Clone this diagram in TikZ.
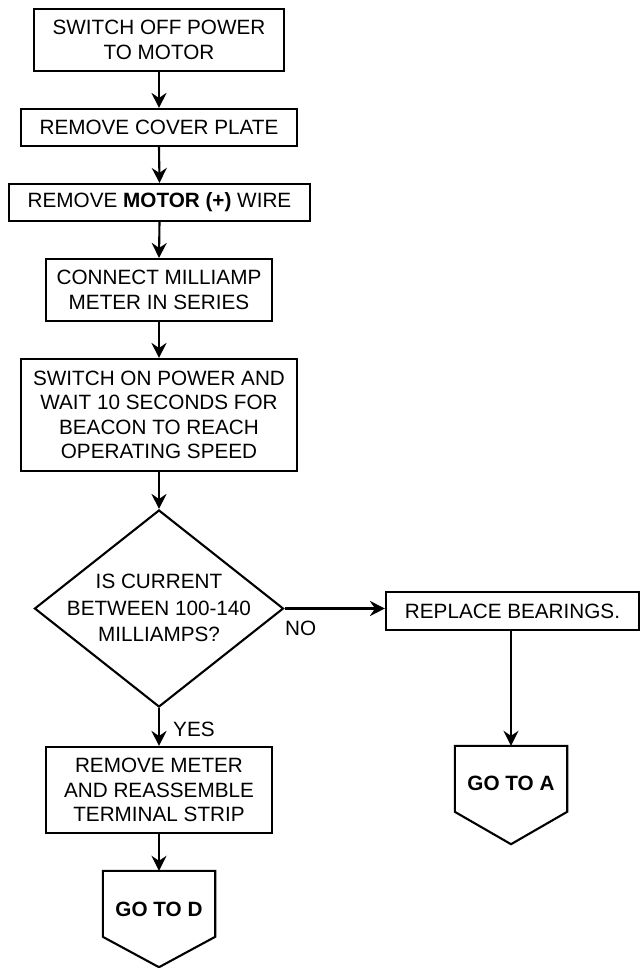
\documentclass[tikz,border=0pt]{standalone}
\usepackage{fontspec}
\setmainfont{Liberation Sans}
\usetikzlibrary{arrows.meta,shapes.geometric,calc}
\begin{document}
\begin{tikzpicture}[x=1pt,y=-1pt,
  box/.style={draw,line width=2.1pt,rectangle,inner sep=0pt,align=center,
    font=\fontsize{20.7}{24.5}\selectfont},
  dec/.style={draw,line width=2.1pt,diamond,inner sep=0pt},
  dectext/.style={inner sep=0pt,align=center,font=\fontsize{20.7}{26.5}\selectfont},
  term/.style={inner sep=0pt,align=center,font=\fontsize{20.7}{24.5}\selectfont\bfseries},
  lbl/.style={inner sep=0pt,font=\fontsize{20.7}{24.5}\selectfont},
  arr/.style={line width=2.1pt,-{Stealth[length=15pt,width=15pt,inset=5pt]}},
  pent/.style={line width=2.1pt,line join=miter}]
\useasboundingbox (0,0) rectangle (640,968);
\node[box,minimum width=250pt,minimum height=62pt] (b1) at (159,40) {SWITCH OFF POWER\\TO MOTOR};
\node[box,minimum width=276pt,minimum height=37pt] (b2) at (159,127.5) {REMOVE COVER PLATE};
\node[box,minimum width=301pt,minimum height=37pt] (b3) at (159.5,202.5) {REMOVE \textbf{MOTOR (+)} WIRE};
\node[box,minimum width=226pt,minimum height=62pt] (b4) at (159,290) {CONNECT MILLIAMP\\METER IN SERIES};
\node[box,minimum width=276pt,minimum height=112pt] (b5) at (159,415) {SWITCH ON POWER AND\\WAIT 10 SECONDS FOR\\BEACON TO REACH\\OPERATING SPEED};
\node[dec,minimum width=249pt,minimum height=197pt] (d) at (159,608.5) {};
\node[dectext] (dt) at (159,608) {IS CURRENT\\BETWEEN 100-140\\MILLIAMPS?};
\node[box,minimum width=253pt,minimum height=38pt] (r) at (512.5,611) {REPLACE BEARINGS.};
\node[box,minimum width=226pt,minimum height=86pt] (b6) at (159,790) {REMOVE METER\\AND REASSEMBLE\\TERMINAL STRIP};
% off-page connectors
\node[term,minimum width=112pt,minimum height=96pt] (gd) at (159,919) {};
\node[term] (gdt) at (159,909) {GO TO D};
\node[term,minimum width=112pt,minimum height=98pt] (ga) at (511,795) {};
\node[term] (gat) at (511,783) {GO TO A};
\draw[pent] (gd.north west) -- (gd.north east) -- ($(gd.north east)+(0,66)$) -- (gd.south) -- ($(gd.north west)+(0,66)$) -- cycle;
\draw[pent] (ga.north west) -- (ga.north east) -- ($(ga.north east)+(0,66)$) -- (ga.south) -- ($(ga.north west)+(0,66)$) -- cycle;
% connectors
\draw[arr] (b1.south) -- (b2.north);
\draw[arr] (b2.south) -- (b3.north);
\draw[arr] (b3.south) -- (b4.north);
\draw[arr] (b4.south) -- (b5.north);
\draw[arr] (b5.south) -- (d.north);
\draw[arr] (d.east) -- (d.east -| r.west);
\draw[arr] (d.south) -- (b6.north);
\draw[arr] (b6.south) -- (gd.north);
\draw[arr] (r.south -| ga.north) -- (ga.north);
% labels
\node[lbl,anchor=west] (yes) at (173,729) {YES};
\node[lbl,anchor=west] (no) at (285,628) {NO};
\end{tikzpicture}
\end{document}
